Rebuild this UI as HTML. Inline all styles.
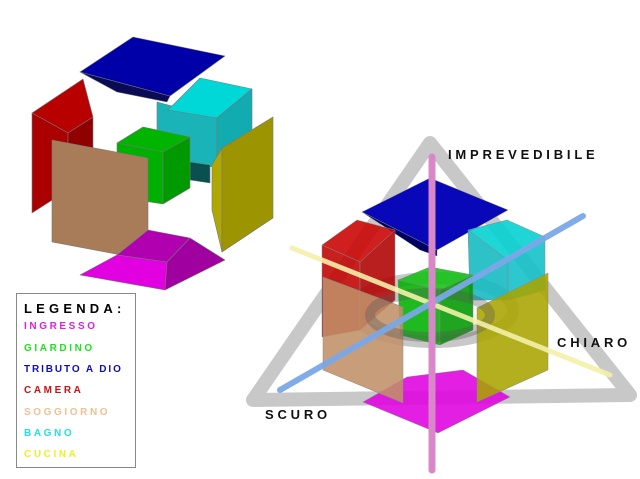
<!DOCTYPE html>
<html><head><meta charset="utf-8"><style>
html,body{margin:0;padding:0;background:#fff;}
svg{display:block;}
.lg{font-family:"Liberation Sans",sans-serif;font-weight:bold;font-size:10px;letter-spacing:2.6px;}
.lb{font-family:"Liberation Sans",sans-serif;font-weight:bold;font-size:13px;letter-spacing:3.8px;fill:#111;}
</style></head><body>
<svg width="640" height="479" viewBox="0 0 640 479" xmlns="http://www.w3.org/2000/svg">
<g stroke="#777" stroke-width="0.6" stroke-linejoin="round">
<polygon points="80,72 170,96 167,102 117,92" fill="#0a0a55"/>
<polygon points="80,72 133,37 225,56 170,96" fill="#0000a8"/>
<polygon points="157,102 217,118 217,167 157,163" fill="#1ab4b8"/>
<polygon points="168,110 200,78 252,89 217,118" fill="#00d8d8"/>
<polygon points="217,118 252,89 252,153 217,167" fill="#12acb0"/>
<polygon points="190,162 210,165 210,183 190,180" fill="#0a5050"/>
<polygon points="117,143 143,127 190,137 163,152" fill="#00b400"/>
<polygon points="117,143 163,152 163,204 117,197" fill="#00b000"/>
<polygon points="163,152 190,137 190,188 163,204" fill="#009a00"/>
<polygon points="32,113 83,79 93,117 68,133" fill="#b80000"/>
<polygon points="32,113 68,133 68,190 32,213" fill="#aa0000"/>
<polygon points="68,133 93,117 93,180 68,190" fill="#900000"/>
<polygon points="52,140 148,158 148,260 52,242" fill="#a87c58"/>
<polygon points="212,165 222,148 222,252 212,210" fill="#b0a800"/>
<polygon points="222,148 273,117 273,218 222,252" fill="#9c9400"/>
<polygon points="117,255 148,230 190,238 167,262" fill="#b000b0"/>
<polygon points="80,275 117,255 167,262 165,290" fill="#e000e0"/>
<polygon points="167,262 190,238 225,260 165,290" fill="#a000a0"/>
</g>
<rect x="16.5" y="293.5" width="119" height="174" fill="#fff" stroke="#888" stroke-width="1"/>
<text x="24" y="313" class="lg" style="font-size:13px;letter-spacing:4.2px" fill="#000">LEGENDA:</text>
<text x="24" y="329" class="lg" fill="#e020e0">INGRESSO</text>
<text x="24" y="351" class="lg" fill="#20e020">GIARDINO</text>
<text x="24" y="372" class="lg" style="letter-spacing:1.9px" fill="#1010b0">TRIBUTO A DIO</text>
<text x="24" y="393" class="lg" fill="#d01010">CAMERA</text>
<text x="24" y="415" class="lg" fill="#f0c090">SOGGIORNO</text>
<text x="24" y="436" class="lg" fill="#20e0e0">BAGNO</text>
<text x="24" y="457" class="lg" fill="#f0f020">CUCINA</text>
<polygon points="430,143 253,400 630,395" fill="none" stroke="#c8c8c8" stroke-width="14" stroke-linejoin="round"/>
<ellipse cx="433" cy="310" rx="80" ry="32" fill="none" stroke="#c8c8c8" stroke-width="12"/>
<g stroke="#888" stroke-width="0.5">
<polygon points="362,212 430,178 508,210 437,250" fill="#0808b8"/>
<polygon points="362,212 437,250 437,256 420,250" fill="#000060"/>
<g fill-opacity="0.88">
<polygon points="322,245 357,220 395,230 360,262" fill="#c80000"/>
<polygon points="322,245 360,262 360,330 322,337" fill="#c00000"/>
<polygon points="360,262 395,230 395,300 360,330" fill="#b00000"/>
<polygon points="468,230 507,220 545,237 508,260" fill="#00d0d0"/>
<polygon points="468,230 508,260 508,300 470,300" fill="#10b8c0"/>
<polygon points="508,260 545,237 545,290 508,300" fill="#10c0c8"/>
<polygon points="398,280 430,267 473,275 440,290" fill="#10c010"/>
<polygon points="398,280 440,290 440,345 400,335" fill="#00b000"/>
<polygon points="440,290 473,275 473,330 440,345" fill="#009800"/>
<polygon points="363,402 407,377 463,370 510,397 438,433" fill="#e000e0"/>
<polygon points="323,277 403,307 403,403 323,370" fill="#c09068"/>
<polygon points="477,308 548,273 548,370 477,402" fill="#a8a400"/>
</g>
</g>
<ellipse cx="430" cy="315" rx="60" ry="22" fill="none" stroke="#555" stroke-opacity="0.35" stroke-width="10"/>
<line x1="292" y1="248" x2="610" y2="375" stroke="#f4f0a8" stroke-width="5" stroke-opacity="0.9" stroke-linecap="round"/>
<line x1="280" y1="390" x2="583" y2="216" stroke="#7aa8e8" stroke-width="6" stroke-opacity="0.95" stroke-linecap="round"/>
<line x1="432" y1="157" x2="432" y2="470" stroke="#d888c8" stroke-width="7" stroke-linecap="round"/>
<text x="448" y="159" class="lb">IMPREVEDIBILE</text>
<text x="557" y="347" class="lb">CHIARO</text>
<text x="265" y="419" class="lb">SCURO</text>
</svg>
</body></html>
